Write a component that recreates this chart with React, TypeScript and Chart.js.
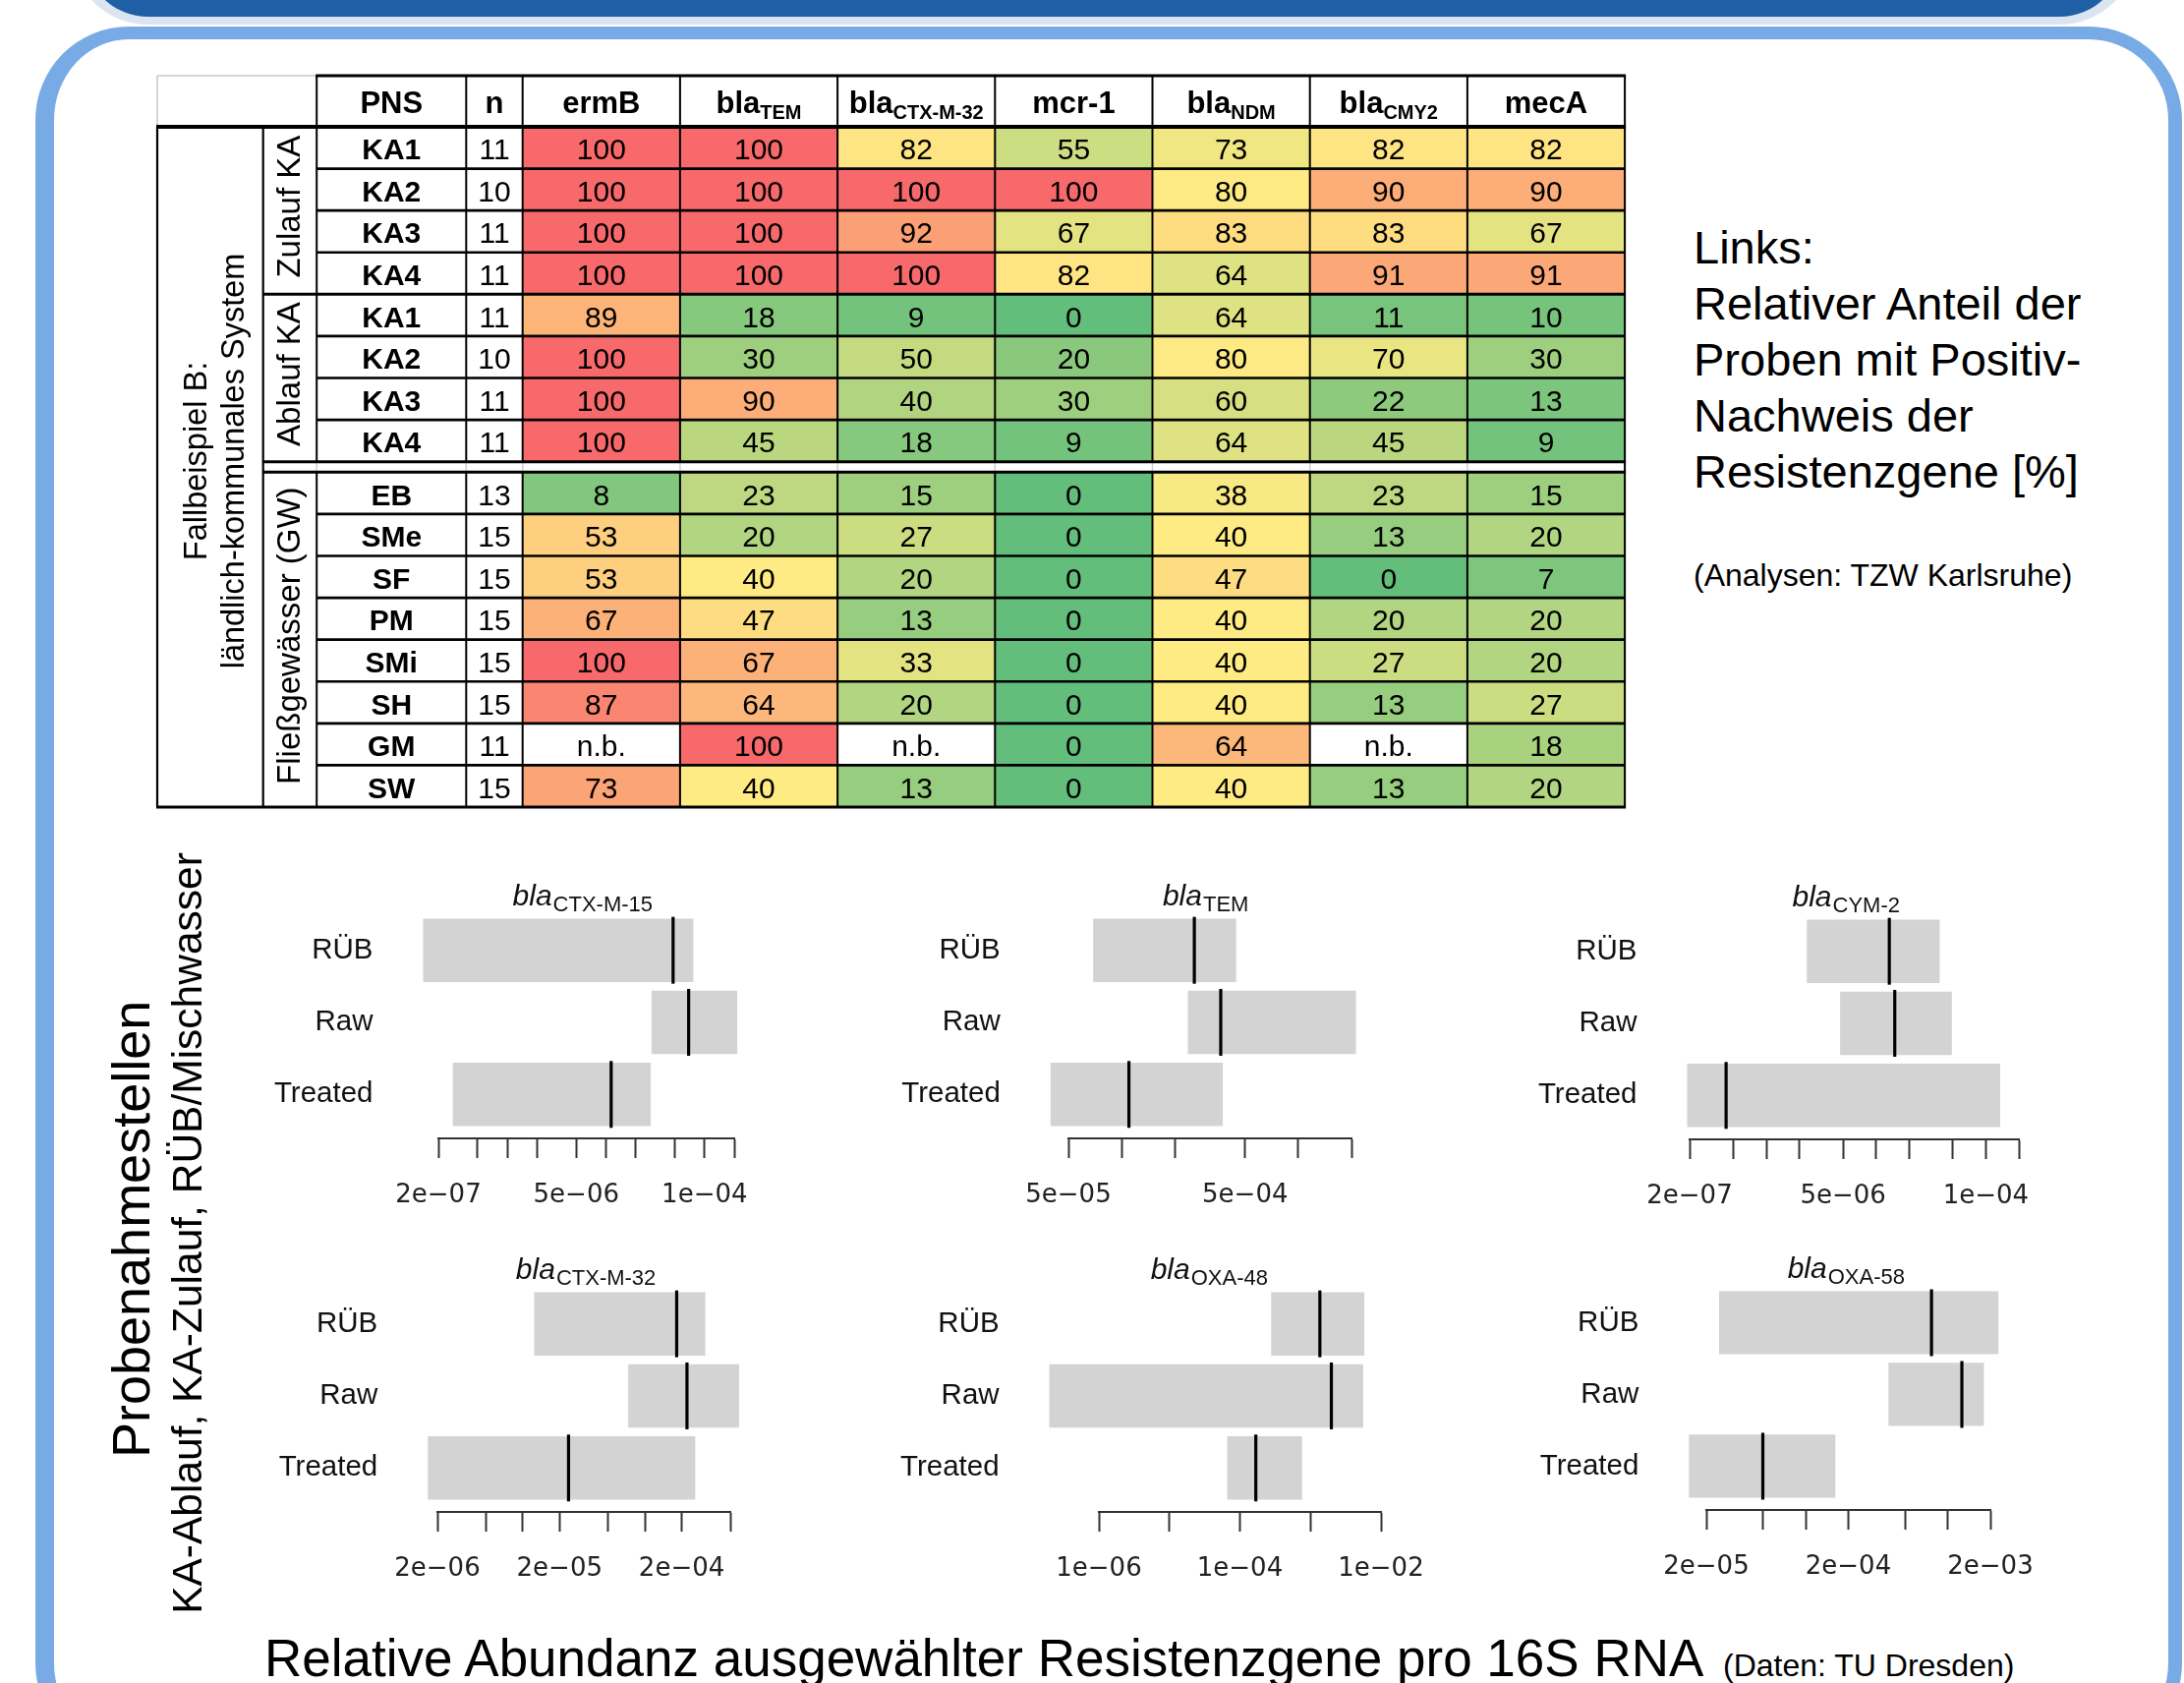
import React, { useEffect, useRef } from 'react';
import { Chart, registerables } from 'chart.js';

Chart.register(...registerables);

const FONT = "'Liberation Sans', Arial, Helvetica, sans-serif";
const TICK_FONT = "'DejaVu Sans', 'Liberation Sans', sans-serif";

// ---------------- Table data ----------------
const geneNames = ['ermB', 'bla', 'bla', 'mcr-1', 'bla', 'bla', 'mecA'];
const geneSubscripts = ['', 'TEM', 'CTX-M-32', '', 'NDM', 'CMY2', ''];
const siteLabels = ['KA1', 'KA2', 'KA3', 'KA4', 'KA1', 'KA2', 'KA3', 'KA4', 'EB', 'SMe', 'SF', 'PM', 'SMi', 'SH', 'GM', 'SW'];
const sampleCounts = [11, 10, 11, 11, 11, 10, 11, 11, 13, 15, 15, 15, 15, 15, 11, 15];
const groupLabels = ['Zulauf KA', 'Ablauf KA', 'Fließgewässer (GW)'];
const groupSizes = [4, 4, 8];
const outerLabelLines = ['Fallbeispiel B:', 'ländlich-kommunales System'];

const ermB = [100, 100, 100, 100, 89, 100, 100, 100, 8, 53, 53, 67, 100, 87, null, 73];
const blaTEM = [100, 100, 100, 100, 18, 30, 90, 45, 23, 20, 40, 47, 67, 64, 100, 40];
const blaCTXM32 = [82, 100, 92, 100, 9, 50, 40, 18, 15, 27, 20, 13, 33, 20, null, 13];
const mcr1 = [55, 100, 67, 82, 0, 20, 30, 9, 0, 0, 0, 0, 0, 0, 0, 0];
const blaNDM = [73, 80, 83, 64, 64, 80, 60, 64, 38, 40, 47, 40, 40, 40, 64, 40];
const blaCMY2 = [82, 90, 83, 91, 11, 70, 22, 45, 23, 13, 0, 20, 27, 13, null, 13];
const mecA = [82, 90, 67, 91, 10, 30, 13, 9, 15, 20, 7, 20, 20, 27, 18, 20];
const geneValues: (number | null)[][] = [ermB, blaTEM, blaCTXM32, mcr1, blaNDM, blaCMY2, mecA];

// ---------------- Abundance data ----------------
const abundanceLocations = ['RÜB', 'Raw', 'Treated'];

const ctxM15Ranges = [[1.4e-7, 7.7e-5], [2.9e-5, 2.15e-4], [2.8e-7, 2.85e-5]];
const ctxM15Medians = [4.8e-5, 6.9e-5, 1.13e-5];
const ctxM15Ticks = [2e-7, 5e-7, 1e-6, 2e-6, 5e-6, 1e-5, 2e-5, 5e-5, 1e-4, 2e-4];
const ctxM15TickLabels = ['2e\u221207', '', '', '', '5e\u221206', '', '', '', '1e\u221204', ''];

const temRanges = [[6.9e-5, 4.45e-4], [2.37e-4, 2.12e-3], [3.96e-5, 3.74e-4]];
const temMedians = [2.58e-4, 3.64e-4, 1.1e-4];
const temTicks = [5e-5, 1e-4, 2e-4, 5e-4, 1e-3, 2e-3];
const temTickLabels = ['5e\u221205', '', '', '5e\u221204', '', ''];

const cym2Ranges = [[2.34e-6, 3.8e-5], [4.7e-6, 4.9e-5], [1.9e-7, 1.35e-4]];
const cym2Medians = [1.32e-5, 1.48e-5, 4.3e-7];
const cym2Ticks = [2e-7, 5e-7, 1e-6, 2e-6, 5e-6, 1e-5, 2e-5, 5e-5, 1e-4, 2e-4];
const cym2TickLabels = ['2e\u221207', '', '', '', '5e\u221206', '', '', '', '1e\u221204', ''];

const ctxM32Ranges = [[1.24e-5, 3.12e-4], [7.3e-5, 5.9e-4], [1.67e-6, 2.58e-4]];
const ctxM32Medians = [1.82e-4, 2.21e-4, 2.37e-5];
const ctxM32Ticks = [2e-6, 5e-6, 1e-5, 2e-5, 5e-5, 1e-4, 2e-4, 5e-4];
const ctxM32TickLabels = ['2e\u221206', '', '', '2e\u221205', '', '', '2e\u221204', ''];

const oxa48Ranges = [[2.77e-4, 5.8e-3], [1.98e-7, 5.6e-3], [6.6e-5, 7.6e-4]];
const oxa48Medians = [1.36e-3, 1.98e-3, 1.68e-4];
const oxa48Ticks = [1e-6, 1e-5, 1e-4, 1e-3, 1e-2];
const oxa48TickLabels = ['1e\u221206', '', '1e\u221204', '', '1e\u221202'];

const oxa58Ranges = [[2.46e-5, 2.28e-3], [3.83e-4, 1.8e-3], [1.51e-5, 1.62e-4]];
const oxa58Medians = [7.7e-4, 1.26e-3, 5.0e-5];
const oxa58Ticks = [2e-5, 5e-5, 1e-4, 2e-4, 5e-4, 1e-3, 2e-3];
const oxa58TickLabels = ['2e\u221205', '', '', '2e\u221204', '', '', '2e\u221203'];

// ---------------- Styles / layout ----------------
const GREEN = [0x63, 0xbe, 0x7b];
const YELLOW = [0xff, 0xeb, 0x84];
const RED = [0xf8, 0x69, 0x6b];
const MID_TOP = 81;
const MID_BOTTOM = 40;
const ROW_GAP = 0.25;

function lerp(a: number[], b: number[], t: number) {
  const c = a.map((v, i) => Math.round(v + (b[i] - v) * t));
  return `rgb(${c[0]},${c[1]},${c[2]})`;
}
function colorFor(v: number | null, mid: number) {
  if (v == null) return '#ffffff';
  if (v <= mid) return lerp(GREEN, YELLOW, v / mid);
  return lerp(YELLOW, RED, (v - mid) / (100 - mid));
}
const rowPos = (i: number) => i + (i >= 8 ? ROW_GAP : 0);

const TABLE = { left: 150, top: 65, width: 1515, height: 770, area: { left: 531.7, top: 129, right: 1653.1, bottom: 821 } };
const HEADER_H = 52;
const N_COL_W = 57.4;
const PNS_COL_W = 152.1;
const GROUP_COL_W = 54.5;
const OUTER_COL_W = 107.7;
const TEXT_DY = 12;

const tablePlugin = {
  id: 'tableChrome',
  afterDatasetsDraw(chart: any) {
    const { ctx, chartArea: a, scales } = chart;
    const x = scales.x, y = scales.y;
    const nL = a.left - N_COL_W;
    const pL = nL - PNS_COL_W;
    const gL = pL - GROUP_COL_W;
    const oL = gL - OUTER_COL_W;
    const R = a.right;
    const hTop = a.top - HEADER_H;
    const hBot = a.top;
    const rowTop = (i: number) => y.getPixelForValue(rowPos(i) - 0.5);
    const rowBot = (i: number) => y.getPixelForValue(rowPos(i) + 0.5);
    const nRows = siteLabels.length;
    const bottom = rowBot(nRows - 1);
    const gapTop = rowBot(7);
    const gapBot = rowTop(8);

    ctx.save();
    const hline = (yy: number, x1: number, x2: number, w: number, c = '#000') => {
      ctx.strokeStyle = c; ctx.lineWidth = w; ctx.beginPath(); ctx.moveTo(x1, yy); ctx.lineTo(x2, yy); ctx.stroke();
    };
    const vline = (xx: number, y1: number, y2: number, w: number, c = '#000') => {
      ctx.strokeStyle = c; ctx.lineWidth = w; ctx.beginPath(); ctx.moveTo(xx, y1); ctx.lineTo(xx, y2); ctx.stroke();
    };

    // light grey top-left empty header cell
    hline(hTop, oL, pL, 2, '#d4d4d4');
    vline(oL, hTop, hBot, 2, '#d4d4d4');

    // vertical lines
    const colXs = [pL, nL];
    for (let g = 0; g <= geneNames.length; g++) colXs.push(x.getPixelForValue(g));
    colXs.forEach((cx) => {
      vline(cx, hTop, gapTop, 2);
      vline(cx, gapTop, gapBot, 1.5, '#cfcfcf');
      vline(cx, gapBot, bottom, 2);
    });
    vline(R, gapTop, gapBot, 2);
    vline(oL, hBot, bottom, 2.2);
    vline(gL, hBot, bottom, 2.2);

    // horizontal lines
    hline(hTop, pL - 1, R + 1, 3.2);
    for (let i = 0; i < nRows - 1; i++) {
      if (i === 7) continue;
      const start = i === 3 ? gL : pL;
      hline(rowBot(i), start, R, i === 3 ? 3 : 2.6);
    }
    hline(gapTop, gL, R + 1, 3);
    hline(gapBot, gL, R + 1, 3);
    hline(hBot, oL - 1, R + 1, 4);
    hline(bottom, oL - 1, R + 1, 3);

    // cell values
    ctx.fillStyle = '#000';
    ctx.textAlign = 'center';
    ctx.textBaseline = 'alphabetic';
    ctx.font = `30px ${FONT}`;
    chart.data.datasets.forEach((_ds: any, g: number) => {
      const meta = chart.getDatasetMeta(g);
      meta.data.forEach((el: any, i: number) => {
        const v = geneValues[g][i];
        const c = el.getCenterPoint();
        ctx.fillText(v == null ? 'n.b.' : String(v), c.x, c.y + TEXT_DY);
      });
    });

    // PNS + n columns
    siteLabels.forEach((s, i) => {
      const cy = y.getPixelForValue(rowPos(i)) + TEXT_DY;
      ctx.font = `bold 30px ${FONT}`;
      ctx.fillText(s, (pL + nL) / 2, cy);
      ctx.font = `30px ${FONT}`;
      ctx.fillText(String(sampleCounts[i]), (nL + a.left) / 2, cy);
    });

    // header
    const hb = hTop + 37.5;
    ctx.font = `bold 31px ${FONT}`;
    ctx.fillText('PNS', (pL + nL) / 2, hb);
    ctx.fillText('n', (nL + a.left) / 2, hb);
    geneNames.forEach((name, g) => {
      const cx = x.getPixelForValue(g + 0.5);
      const sub = geneSubscripts[g];
      ctx.font = `bold 31px ${FONT}`;
      const w1 = ctx.measureText(name).width;
      ctx.font = `bold 20px ${FONT}`;
      const w2 = sub ? ctx.measureText(sub).width : 0;
      const start = cx - (w1 + w2) / 2;
      ctx.textAlign = 'left';
      ctx.font = `bold 31px ${FONT}`;
      ctx.fillText(name, start, hb);
      if (sub) {
        ctx.font = `bold 20px ${FONT}`;
        ctx.fillText(sub, start + w1, hb + 6.5);
      }
      ctx.textAlign = 'center';
    });

    // rotated group labels
    const rot = (text: string, bx: number, cy: number, font: string) => {
      ctx.save();
      ctx.translate(bx, cy);
      ctx.rotate(-Math.PI / 2);
      ctx.font = font;
      ctx.textAlign = 'center';
      ctx.fillText(text, 0, 0);
      ctx.restore();
    };
    let start = 0;
    groupLabels.forEach((lab, gi) => {
      const end = start + groupSizes[gi] - 1;
      const cy = (rowTop(start) + rowBot(end)) / 2 - 4;
      rot(lab, gL + 37.5, cy, `33px ${FONT}`);
      start = end + 1;
    });
    const ocy = (hBot + bottom) / 2 - 6;
    rot(outerLabelLines[0], oL + 50, ocy, `32.5px ${FONT}`);
    rot(outerLabelLines[1], oL + 87.6, ocy, `32.5px ${FONT}`);
    ctx.restore();
  },
};

function TableChart() {
  const ref = useRef<HTMLCanvasElement>(null);
  useEffect(() => {
    const a = TABLE.area;
    const datasets = geneValues.map((vals, g) => ({
      type: 'bar' as const,
      label: geneNames[g] + geneSubscripts[g],
      data: vals.map((_v, i) => ({ x: [g, g + 1], y: rowPos(i) })),
      backgroundColor: (c: any) => colorFor(vals[c.dataIndex], c.dataIndex < 8 ? MID_TOP : MID_BOTTOM),
      borderWidth: 0,
      grouped: false,
      barPercentage: 1,
      categoryPercentage: 1,
    }));
    const chart = new Chart(ref.current as HTMLCanvasElement, {
      type: 'bar',
      data: { datasets: datasets as any },
      options: {
        indexAxis: 'y',
        responsive: false,
        animation: false,
        devicePixelRatio: 1,
        events: [],
        layout: {
          padding: {
            left: a.left - TABLE.left,
            top: a.top - TABLE.top,
            right: TABLE.left + TABLE.width - a.right,
            bottom: TABLE.top + TABLE.height - a.bottom,
          },
        },
        plugins: { legend: { display: false }, tooltip: { enabled: false } },
        scales: {
          x: {
            type: 'linear', min: 0, max: geneNames.length, display: false, offset: false,
            afterBuildTicks: (s: any) => { s.ticks = []; },
          },
          y: {
            type: 'linear', min: -0.5, max: siteLabels.length - 1 + ROW_GAP + 0.5, reverse: true, display: false,
            offset: false, grid: { offset: false },
            afterBuildTicks: (s: any) => { s.ticks = siteLabels.map((_l, i) => ({ value: rowPos(i) })); },
          },
        },
      } as any,
      plugins: [tablePlugin],
    });
    return () => chart.destroy();
  }, []);
  return (
    <canvas
      ref={ref}
      width={TABLE.width}
      height={TABLE.height}
      style={{ position: 'absolute', left: TABLE.left, top: TABLE.top, width: TABLE.width, height: TABLE.height }}
    />
  );
}

// ---------------- Mini charts ----------------
type MiniSpec = {
  sub: string;
  ranges: number[][];
  medians: number[];
  ticks: number[];
  tickLabels: string[];
  area: { left: number; right: number; top: number; bottom: number };
};

const miniSpecs: MiniSpec[] = [
  { sub: 'CTX-M-15', ranges: ctxM15Ranges, medians: ctxM15Medians, ticks: ctxM15Ticks, tickLabels: ctxM15TickLabels, area: { left: 446.4, right: 747.3, top: 929.9, bottom: 1157.7 } },
  { sub: 'TEM', ranges: temRanges, medians: temMedians, ticks: temTicks, tickLabels: temTickLabels, area: { left: 1087, right: 1375, top: 929.9, bottom: 1157.7 } },
  { sub: 'CYM-2', ranges: cym2Ranges, medians: cym2Medians, ticks: cym2Ticks, tickLabels: cym2TickLabels, area: { left: 1718.75, right: 2053.6, top: 931, bottom: 1159 } },
  { sub: 'CTX-M-32', ranges: ctxM32Ranges, medians: ctxM32Medians, ticks: ctxM32Ticks, tickLabels: ctxM32TickLabels, area: { left: 444.6, right: 742.9, top: 1309.8, bottom: 1537.3 } },
  { sub: 'OXA-48', ranges: oxa48Ranges, medians: oxa48Medians, ticks: oxa48Ticks, tickLabels: oxa48TickLabels, area: { left: 1118.3, right: 1404.9, top: 1309.8, bottom: 1537.3 } },
  { sub: 'OXA-58', ranges: oxa58Ranges, medians: oxa58Medians, ticks: oxa58Ticks, tickLabels: oxa58TickLabels, area: { left: 1736.2, right: 2025, top: 1308.5, bottom: 1535 } },
];

const LABEL_GAP = 51;
const PAD_L = 260, PAD_T = 60, PAD_R = 70, PAD_B = 90;

const miniTitlePlugin = {
  id: 'miniTitle',
  afterDraw(chart: any, _args: any, opts: any) {
    const { ctx, chartArea, scales } = chart;
    const x = scales.x;
    const cx = (x.getPixelForValue(opts.lo) + x.getPixelForValue(opts.hi)) / 2 + 2;
    const base = chartArea.top - 9;
    ctx.save();
    ctx.fillStyle = '#111';
    ctx.textBaseline = 'alphabetic';
    ctx.font = `italic 30px ${FONT}`;
    const w1 = ctx.measureText('bla').width;
    ctx.font = `22px ${FONT}`;
    const w2 = ctx.measureText(opts.sub).width;
    const s = cx - (w1 + w2) / 2;
    ctx.textAlign = 'left';
    ctx.font = `italic 30px ${FONT}`;
    ctx.fillText('bla', s, base);
    ctx.font = `22px ${FONT}`;
    ctx.fillText(opts.sub, s + w1 + 1, base + 6);
    ctx.restore();
  },
};

function MiniChart({ spec }: { spec: MiniSpec }) {
  const ref = useRef<HTMLCanvasElement>(null);
  const { area } = spec;
  const left = area.left - PAD_L;
  const top = area.top - PAD_T;
  const width = Math.round(area.right - area.left + PAD_L + PAD_R);
  const height = Math.round(area.bottom - area.top + PAD_T + PAD_B);
  useEffect(() => {
    const lo = Math.min(...spec.ranges.map((r) => r[0]));
    const hi = Math.max(...spec.ranges.map((r) => r[1]));
    const t0 = spec.ticks[0];
    const t1 = spec.ticks[spec.ticks.length - 1];
    const ppd = (area.right - area.left) / (Math.log10(t1) - Math.log10(t0));
    const labelGap = LABEL_GAP + Math.max(0, Math.log10(t0) - Math.log10(lo)) * ppd;
    const chart = new Chart(ref.current as HTMLCanvasElement, {
      type: 'bar',
      data: {
        datasets: [
          {
            type: 'scatter',
            data: spec.medians.map((m, i) => ({ x: m, y: i })),
            pointStyle: 'line',
            rotation: 90,
            radius: 34,
            borderWidth: 3.2,
            borderColor: '#000',
            backgroundColor: '#000',
            clip: false,
            order: 1,
          },
          {
            type: 'bar',
            data: spec.ranges.map((r, i) => ({ x: r, y: i })),
            backgroundColor: '#d3d3d3',
            borderWidth: 0,
            barPercentage: 0.88,
            categoryPercentage: 1,
            clip: false,
            order: 2,
          },
        ] as any,
      },
      options: {
        indexAxis: 'y',
        responsive: false,
        animation: false,
        devicePixelRatio: 1,
        events: [],
        layout: { padding: { left: 0, top: PAD_T, right: PAD_R, bottom: 0 } },
        plugins: {
          legend: { display: false },
          tooltip: { enabled: false },
          miniTitle: { sub: spec.sub, lo, hi },
        },
        scales: {
          x: {
            type: 'logarithmic',
            min: t0,
            max: t1,
            offset: false,
            afterBuildTicks: (s: any) => { s.ticks = spec.ticks.map((v) => ({ value: v })); },
            afterFit: (s: any) => { s.height = PAD_B; },
            ticks: {
              autoSkip: false,
              maxRotation: 0,
              minRotation: 0,
              padding: 23,
              color: '#222',
              font: { family: TICK_FONT, size: 26 },
              callback: (_v: any, i: number) => spec.tickLabels[i],
            },
            grid: { drawOnChartArea: false, drawTicks: true, tickLength: 20, tickWidth: 2, color: '#333', offset: false },
            border: { display: true, width: 2, color: '#333' },
          },
          y: {
            type: 'linear',
            reverse: true,
            min: -0.5,
            max: 2.61,
            offset: false,
            afterBuildTicks: (s: any) => { s.ticks = abundanceLocations.map((_l, i) => ({ value: i })); },
            afterFit: (s: any) => { s.width = PAD_L; },
            ticks: {
              padding: 0,
              color: '#111',
              font: { family: FONT, size: 29.5 },
              callback: (v: any) => abundanceLocations[v],
            },
            grid: {
              display: true, drawOnChartArea: false, drawTicks: true, tickLength: labelGap,
              color: 'rgba(0,0,0,0)', offset: false,
            },
            border: { display: false },
          },
        },
      } as any,
      plugins: [miniTitlePlugin],
    });
    return () => chart.destroy();
  }, []);
  return (
    <canvas ref={ref} width={width} height={height} style={{ position: 'absolute', left, top, width, height }} />
  );
}

// ---------------- Text helpers ----------------
function Txt(props: { x: number; base: number; size: number; children: React.ReactNode; weight?: number }) {
  const { x, base, size, children, weight = 400 } = props;
  return (
    <div
      style={{
        position: 'absolute', left: x, top: base - 0.9465 * size, fontSize: size, lineHeight: `${1.2 * size}px`,
        fontFamily: FONT, fontWeight: weight, whiteSpace: 'nowrap', color: '#000',
      }}
    >
      {children}
    </div>
  );
}
function RotTxt(props: { bx: number; cy: number; size: number; children: React.ReactNode }) {
  const { bx, cy, size, children } = props;
  const W = 1400;
  const L = 1.2 * size;
  const cxBox = bx - 0.3465 * size;
  return (
    <div
      style={{
        position: 'absolute', left: cxBox - W / 2, top: cy - L / 2, width: W, height: L, lineHeight: `${L}px`,
        fontSize: size, fontFamily: FONT, textAlign: 'center', whiteSpace: 'nowrap', transform: 'rotate(-90deg)', color: '#000',
      }}
    >
      {children}
    </div>
  );
}

const rightTextLines = ['Links:', 'Relativer Anteil der', 'Proben mit Positiv-', 'Nachweis der', 'Resistenzgene [%]'];

export default function App() {
  useEffect(() => {
    document.body.style.margin = '0';
    document.body.style.overflow = 'hidden';
  }, []);
  return (
    <div style={{ position: 'absolute', left: 0, top: 0, width: 2222, height: 1712, overflow: 'hidden', background: '#fff' }}>
      {/* slide frame */}
      <div style={{ position: 'absolute', left: 71, top: -80, width: 2104, height: 105, background: '#dbe5f1', borderRadius: '0 0 80px 80px' }} />
      <div style={{ position: 'absolute', left: 85, top: -80, width: 2076, height: 96.7, background: '#1f5fa6', borderRadius: '0 0 66px 66px' }} />
      <div
        style={{
          position: 'absolute', left: 36, top: 27, width: 2184, height: 1760, boxSizing: 'border-box',
          borderStyle: 'solid', borderColor: '#78abe6', borderWidth: '13px 14px 14px 19px', borderRadius: 95, background: '#fff',
        }}
      />

      <TableChart />

      {rightTextLines.map((t, i) => (
        <Txt key={t} x={1723} base={268 + i * 57.2} size={47}>{t}</Txt>
      ))}
      <Txt x={1723} base={596.7} size={32}>(Analysen: TZW Karlsruhe)</Txt>

      {miniSpecs.map((s) => (
        <MiniChart key={s.sub} spec={s} />
      ))}

      <RotTxt bx={152} cy={1250} size={54}>Probenahmestellen</RotTxt>
      <RotTxt bx={205} cy={1254} size={42.5}>KA-Ablauf, KA-Zulauf, RÜB/Mischwasser</RotTxt>

      <Txt x={269} base={1705} size={53}>Relative Abundanz ausgewählter Resistenzgene pro 16S RNA</Txt>
      <Txt x={1753} base={1705} size={32}>(Daten: TU Dresden)</Txt>
    </div>
  );
}
